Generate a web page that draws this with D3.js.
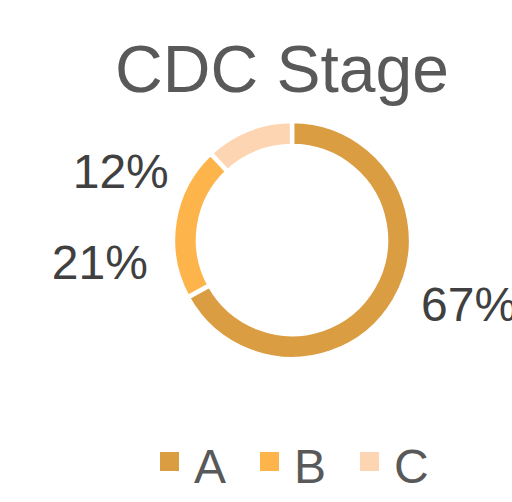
<!DOCTYPE html>
<html lang="en">
<head>
<meta charset="UTF-8">
<title>CDC Stage</title>
<script src="https://cdn.jsdelivr.net/npm/d3@7"></script>
<style>
    html, body { margin: 0; padding: 0; background: #fff; }
    text { font-family: "Liberation Sans", Arial, sans-serif; }
</style>
</head>
<body>
<script>
    // data
    var categories = ['A', 'B', 'C'];
    var values = [67, 21, 12];
    var labels = ['67%', '21%', '12%'];
    var colors = ['#DA9D42', '#FDB54B', '#FDD5B2'];

    var W = 512, H = 502;
    var cx = 292, cy = 240;
    var outerR = 119, innerR = 94;

    var svg = d3.select('body').append('svg').attr('width', W).attr('height', H);

    // title
    svg.append('text').attr('x', 282).attr('y', 92).attr('text-anchor', 'middle')
        .attr('font-size', 66).attr('fill', '#595959').text('CDC Stage');

    var pie = d3.pie().sort(null).value(function (d) { return d; });
    var arcs = pie(values);
    var arc = d3.arc().innerRadius(innerR).outerRadius(outerR);

    var g = svg.append('g').attr('transform', 'translate(' + cx + ',' + cy + ')');
    g.selectAll('path').data(arcs).enter().append('path')
        .attr('d', arc)
        .attr('fill', function (d, i) { return colors[i]; })
        .attr('stroke', '#fff').attr('stroke-width', 4.5);

    // label placement (Excel best-fit, nudged from an outer arc)
    var labelArc = d3.arc().innerRadius(150).outerRadius(150);
    var nudge = [[0, -8], [4, 50], [-68, 75]];
    g.selectAll('.lbl').data(arcs).enter().append('text')
        .attr('class', 'lbl')
        .attr('x', function (d, i) { return labelArc.centroid(d)[0] + nudge[i][0]; })
        .attr('y', function (d, i) { return labelArc.centroid(d)[1] + nudge[i][1]; })
        .attr('text-anchor', function (d, i) { return i === 0 ? 'start' : 'end'; })
        .attr('dominant-baseline', 'middle')
        .attr('font-size', 48).attr('fill', '#404040')
        .text(function (d, i) { return labels[i]; });

    // legend
    var lx = d3.scaleBand().domain(categories).range([160, 460]);
    var leg = svg.selectAll('.leg').data(categories).enter().append('g')
        .attr('transform', function (d) { return 'translate(' + lx(d) + ',0)'; });
    leg.append('rect').attr('x', 0).attr('y', 452).attr('width', 19).attr('height', 19)
        .attr('fill', function (d, i) { return colors[i]; });
    leg.append('text').attr('x', 34).attr('y', 483).attr('font-size', 48)
        .attr('fill', '#595959').text(function (d) { return d; });
</script>
</body>
</html>
